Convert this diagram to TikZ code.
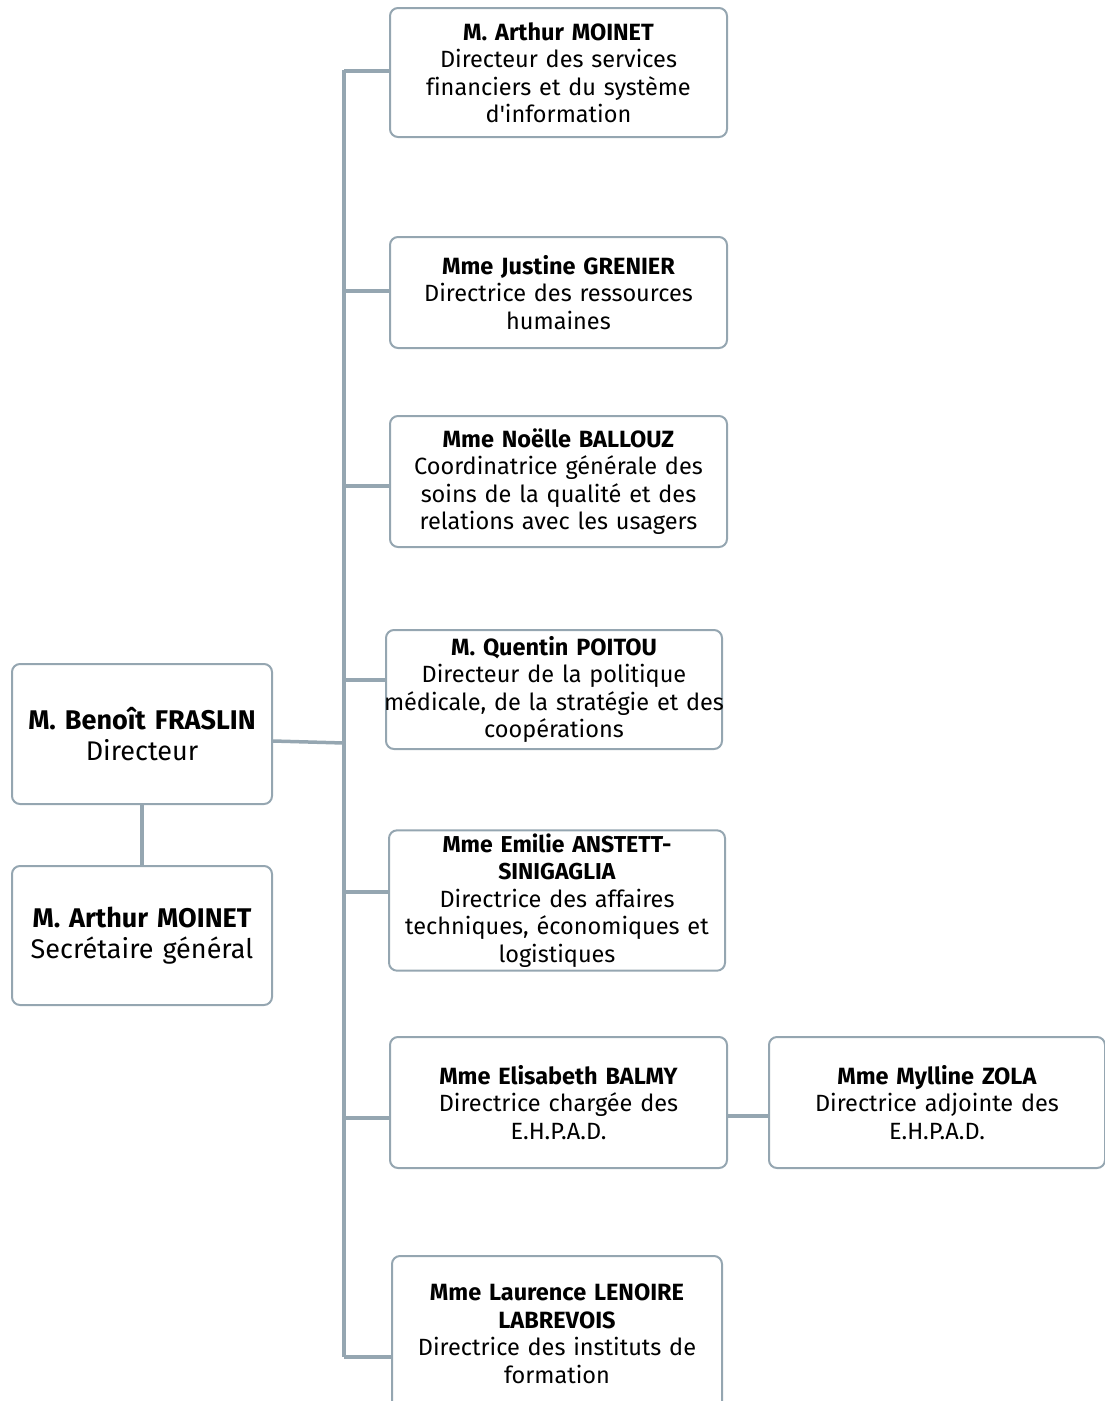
\documentclass[tikz,border=0pt]{standalone}
\usepackage{fontspec}
\setmainfont{Fira Sans}[Ligatures={TeXOff,NoCommon}]
\usepackage{tikz}
\usetikzlibrary{positioning}
\definecolor{linegray}{HTML}{95A6B1}
\tikzstyle{box} = [draw=linegray,line width=2pt,rounded corners=8pt,align=center,inner xsep=0pt,font=\fontsize{23.5}{27.5}\selectfont]
\tikzstyle{bigbox} = [box,font=\fontsize{27}{31}\selectfont]
\tikzstyle{link} = [draw=linegray,line width=3.5pt]

\begin{document}
\begin{tikzpicture}[x=1pt,y=-1pt]
\useasboundingbox (0,0) rectangle (1105,1401);
\clip (0,0) rectangle (1105,1401);

% direction
\node[bigbox,text width=260pt,minimum height=140pt] (dir) at (142,734)
 {\textbf{M. Benoît FRASLIN}\\Directeur};
\node[bigbox,text width=260pt,minimum height=139pt] (sec) at (142,935.5)
 {\textbf{M. Arthur MOINET}\\Secrétaire général};

% directions fonctionnelles
\node[box,text width=337pt,minimum height=129pt] (fin) at (558.5,72.5)
 {\textbf{M. Arthur MOINET}\\Directeur des services\\financiers et du système\\d'information};
\node[box,text width=337pt,minimum height=111pt] (rh) at (558.5,292.5)
 {\textbf{Mme Justine GRENIER}\\Directrice des ressources\\humaines};
\node[box,text width=337pt,minimum height=131pt] (soins) at (558.5,481.5)
 {\textbf{Mme Noëlle BALLOUZ}\\Coordinatrice générale des\\soins de la qualité et des\\relations avec les usagers};
\node[box,text width=336pt,minimum height=119pt] (med) at (554,689.5)
 {\textbf{M. Quentin POITOU}\\Directeur de la politique\\\makebox[336pt][c]{médicale, de la stratégie et des}\\coopérations};
\node[box,text width=336pt,minimum height=137pt] (tech) at (557,900.5)
 {{\fontsize{23}{25}\selectfont\textbf{Mme Emilie ANSTETT-}\\\textbf{SINIGAGLIA}}\\Directrice des affaires\\techniques, économiques et\\logistiques};
\node[box,text width=337pt,minimum height=131pt] (ehpad) at (558.5,1102.5)
 {\textbf{Mme Elisabeth BALMY}\\Directrice chargée des\\E.H.P.A.D.};
\node[box,text width=336pt,minimum height=131pt] (adj) at (937,1102.5)
 {\textbf{Mme Mylline ZOLA}\\Directrice adjointe des\\E.H.P.A.D.};
\node[box,text width=330pt,minimum height=156pt] (ifsi) at (557,1334)
 {\textbf{Mme Laurence LENOIRE}\\\textbf{LABREVOIS}\\Directrice des instituts de\\formation};

% tronc
\coordinate (ttop) at (344,70);
\coordinate (tbot) at (344,1357);
\coordinate (tdir) at (344,743);
\draw[link] (ttop) -- (tbot);
\draw[link] (dir.east |- 0,741) -- (tdir);
\draw[link] (dir.south) -- (sec.north);

\coordinate (t1) at (344,71);
\coordinate (t2) at (344,291);
\coordinate (t3) at (344,486);
\coordinate (t4) at (344,680);
\coordinate (t5) at (344,892);
\coordinate (t6) at (344,1118);
\coordinate (t7) at (344,1357);
\draw[link] (t1) -- (t1 -| fin.west);
\draw[link] (t2) -- (t2 -| rh.west);
\draw[link] (t3) -- (t3 -| soins.west);
\draw[link] (t4) -- (t4 -| med.west);
\draw[link] (t5) -- (t5 -| tech.west);
\draw[link] (t6) -- (t6 -| ehpad.west);
\draw[link] (t7) -- (t7 -| ifsi.west);
\draw[link] (ehpad.east |- 0,1116) -- (adj.west |- 0,1116);

\end{tikzpicture}
\end{document}
